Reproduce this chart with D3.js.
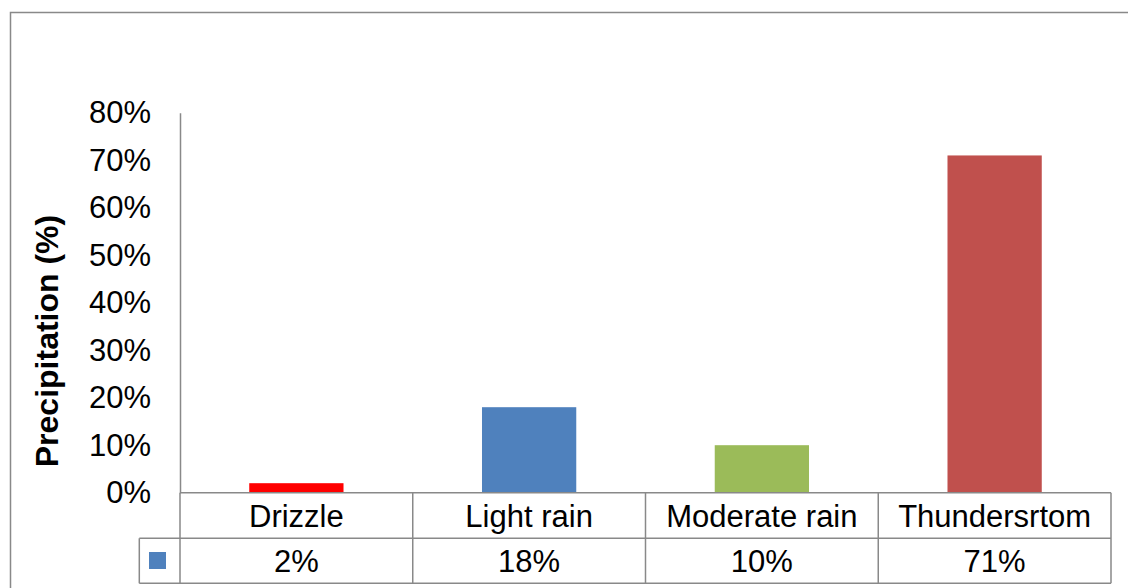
<!DOCTYPE html>
<html><head><meta charset="utf-8">
<script src="https://cdn.jsdelivr.net/npm/d3@7"></script>
<style>body{margin:0;background:#fff}svg{display:block}text{font-family:"Liberation Sans",Arial,sans-serif}</style>
</head><body>
<svg id="c" width="1128" height="588"></svg>
<script>
const categories = ["Drizzle", "Light rain", "Moderate rain", "Thundersrtom"];
const values = [0.02, 0.18, 0.10, 0.71];
const valueLabels = ["2%", "18%", "10%", "71%"];
const barColors = ["#FF0000", "#4F81BD", "#9BBB59", "#C0504D"];
const yTicks = [0, 0.1, 0.2, 0.3, 0.4, 0.5, 0.6, 0.7, 0.8];
const seriesColor = "#4F81BD";

(function () {
const svg = d3.select("#c");
const gray = "#898989";
const left = 180, right = 1111, plotTop = 112.7, base = 492.7;
const row1 = 538.3, row2 = 583.3, legendLeft = 139.3;
const fs = 31;

svg.append("rect").attr("x", 10.5).attr("y", 12.5).attr("width", 1140).attr("height", 600)
  .attr("fill", "none").attr("stroke", gray).attr("stroke-width", 1.5);

const x = d3.scaleBand().domain(categories).range([left, right]).paddingInner(0).paddingOuter(0);
const y = d3.scaleLinear().domain([0, 0.8]).range([base, plotTop]);

// bars
const bw = x.bandwidth() * 0.405;
svg.selectAll("rect.bar").data(values).join("rect").attr("class", "bar")
  .attr("x", (d, i) => x(categories[i]) + x.bandwidth() / 2 - bw / 2)
  .attr("width", bw)
  .attr("y", d => y(d))
  .attr("height", d => base - y(d))
  .attr("fill", (d, i) => barColors[i]);

// y axis
const yAxis = d3.axisLeft(y).tickValues(yTicks).tickFormat(d3.format(".0%")).tickSize(0).tickPadding(29);
const ga = svg.append("g").attr("transform", `translate(${left},0)`).call(yAxis);
ga.select(".domain").attr("stroke", gray).attr("stroke-width", 1.5);
ga.selectAll("text").attr("font-size", fs).attr("fill", "#000").attr("font-family", '"Liberation Sans",Arial,sans-serif');

// y title
svg.append("text").attr("transform", `translate(58,341) rotate(-90)`)
  .attr("text-anchor", "middle").attr("font-size", 32).attr("font-weight", "bold").text("Precipitation (%)");

// data table
const lines = svg.append("g").attr("stroke", gray).attr("stroke-width", 1.5);
lines.append("line").attr("x1", left).attr("x2", right).attr("y1", base).attr("y2", base);
lines.append("line").attr("x1", legendLeft).attr("x2", right).attr("y1", row1).attr("y2", row1);
lines.append("line").attr("x1", legendLeft).attr("x2", right).attr("y1", row2).attr("y2", row2);
lines.append("line").attr("x1", legendLeft).attr("x2", legendLeft).attr("y1", row1).attr("y2", row2);
categories.forEach(c => {
  lines.append("line").attr("x1", x(c)).attr("x2", x(c)).attr("y1", base).attr("y2", row2);
});
lines.append("line").attr("x1", right).attr("x2", right).attr("y1", base).attr("y2", row2);

svg.selectAll("text.cat").data(categories).join("text").attr("class", "cat")
  .attr("x", d => x(d) + x.bandwidth() / 2).attr("y", (base + row1) / 2)
  .attr("dy", "0.36em").attr("text-anchor", "middle").attr("font-size", fs).text(d => d);
svg.selectAll("text.val").data(valueLabels).join("text").attr("class", "val")
  .attr("x", (d, i) => x(categories[i]) + x.bandwidth() / 2).attr("y", (row1 + row2) / 2)
  .attr("dy", "0.36em").attr("text-anchor", "middle").attr("font-size", fs).text(d => d);

svg.append("rect").attr("x", 149).attr("y", 552).attr("width", 17).attr("height", 17).attr("fill", seriesColor);
})();
</script>
</body></html>
